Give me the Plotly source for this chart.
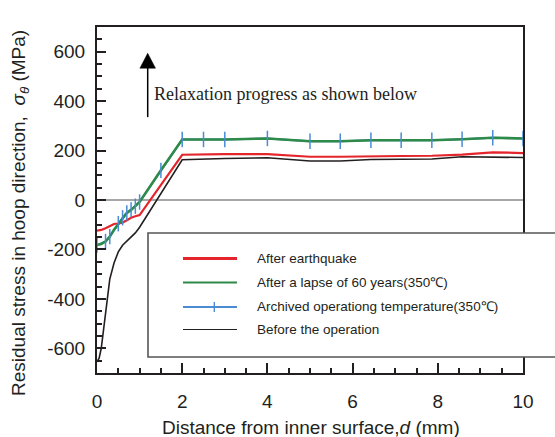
import plotly.graph_objects as go

# ---------------- data ----------------
d_black = [0, 0.05, 0.1, 0.15, 0.2, 0.25, 0.3, 0.4, 0.5, 0.6, 0.7, 0.8, 0.9, 1.0, 2.0, 3.0, 4.0, 5.0, 5.71, 6.43, 7.14, 7.86, 8.57, 9.29, 10]
s_black = [-655, -640, -600, -530, -455, -380, -320, -255, -210, -183, -165, -150, -133, -110, 163, 168, 171, 158, 158, 164, 166, 166, 175, 175, 172]

d_red = [0, 0.1, 0.2, 0.3, 0.4, 0.5, 0.6, 0.7, 0.8, 0.9, 1.0, 2.0, 2.5, 3.0, 4.0, 5.0, 5.71, 6.43, 7.14, 7.86, 8.57, 9.29, 10]
s_red = [-124, -121, -114, -105, -97, -95, -92, -82, -72, -66, -61, 183, 186, 186, 186, 175, 175, 178, 178, 179, 184, 193, 190]

d_green = [0, 0.1, 0.2, 0.3, 0.4, 0.5, 0.6, 0.7, 0.8, 0.9, 1.0, 1.5, 2.0, 2.5, 3.0, 4.0, 5.0, 5.71, 6.43, 7.14, 7.86, 8.57, 9.29, 10]
s_green = [-182, -178, -168, -148, -120, -96, -72, -52, -40, -25, -8, 120, 245, 245, 245, 249, 238, 238, 242, 242, 242, 246, 252, 249]

d_blue = [0, 0.2, 0.3, 0.5, 0.6, 0.7, 0.8, 0.9, 1.0, 1.5, 2.0, 2.5, 3.0, 4.0, 5.0, 5.71, 6.43, 7.14, 7.86, 8.57, 9.29, 10]
s_blue = [-182, -168, -148, -96, -72, -52, -40, -25, -8, 120, 245, 245, 245, 249, 238, 238, 242, 242, 242, 246, 252, 249]

legend_labels = ["After earthquake", "After a lapse of 60 years(350\u2103)",
                 "Archived operationg temperature(350\u2103)", "Before the operation"]

x_ticks = [0, 2, 4, 6, 8, 10]
x_ticktext = ["0", "2", "4", "6", "8", "10"]
y_ticks = [-600, -400, -200, 0, 200, 400, 600]
y_ticktext = ["-600", "-400", "-200", "0", "200", "400", "600"]

RED = "#e4252b"
GREEN = "#2e8a48"
BLUE = "#4a8bd4"
BLACK = "#231f20"

W, H = 555, 437
L, R, T, B = 97, 523, 27, 373


def px(xp):
    return (xp - L) / (R - L)


def py(yp):
    return (B - yp) / (B - T)


fig = go.Figure()
fig.add_trace(go.Scatter(x=d_black, y=s_black, mode="lines", name=legend_labels[3],
                         line=dict(color=BLACK, width=1.6), showlegend=False))
fig.add_trace(go.Scatter(x=d_red, y=s_red, mode="lines", name=legend_labels[0],
                         line=dict(color=RED, width=2.2), showlegend=False))
fig.add_trace(go.Scatter(x=d_blue, y=s_blue, mode="lines", name=legend_labels[2],
                         line=dict(color=BLUE, width=2), showlegend=False))
fig.add_trace(go.Scatter(x=d_green, y=s_green, mode="lines", name=legend_labels[1],
                         line=dict(color=GREEN, width=2.6), showlegend=False))
fig.add_trace(go.Scatter(x=d_blue, y=s_blue, mode="markers", name=legend_labels[2],
                         marker=dict(symbol="line-ns", size=11, line=dict(color=BLUE, width=1.5)),
                         showlegend=False, hoverinfo="skip"))

shapes = []
# zero line
shapes.append(dict(type="line", xref="paper", yref="y", x0=px(105), x1=px(525), y0=0, y1=0,
                   line=dict(color="#8a8a8a", width=1.6), layer="below"))
# arrow
ax = (147.7 - L) / (R - L) * 10
shapes.append(dict(type="line", xref="x", yref="y", x0=ax, x1=ax, y0=(200 - 117) / 0.2475,
                   y1=(200 - 66) / 0.2475, line=dict(color="black", width=1.5)))
hw = 7.8 / 42.6
yb = (200 - 68) / 0.2475
ytip = (200 - 53) / 0.2475
shapes.append(dict(type="path", xref="x", yref="y",
                   path=f"M {ax-hw},{yb} L {ax+hw},{yb} L {ax},{ytip} Z",
                   fillcolor="black", line=dict(color="black", width=0.5)))
# legend box
shapes.append(dict(type="rect", xref="paper", yref="paper", x0=px(148), x1=px(562),
                   y0=py(357), y1=py(233), line=dict(color="#555555", width=1.6),
                   fillcolor="white"))

rows = [258, 282, 306.5, 329]
cols = [RED, GREEN, BLUE, BLACK]
widths = [3, 2, 2, 1.2]
annotations = []
for i, (yy, c, w) in enumerate(zip(rows, cols, widths)):
    shapes.append(dict(type="line", xref="paper", yref="paper", x0=px(183), x1=px(237),
                       y0=py(yy + 0.5), y1=py(yy + 0.5), line=dict(color=c, width=w)))
    annotations.append(dict(text=legend_labels[i], xref="paper", yref="paper", x=px(255),
                            y=py(yy), xanchor="left", yanchor="middle", showarrow=False,
                            font=dict(family="Liberation Sans, Arial", size=13.5, color="#231f20")))
shapes.append(dict(type="line", xref="paper", yref="paper", x0=px(214.3), x1=px(214.3),
                   y0=py(306.5 + 5.5), y1=py(306.5 - 4.5), line=dict(color=BLUE, width=1.4)))

annotations.append(dict(text="Relaxation progress as shown below", xref="paper", yref="paper",
                        x=px(152), y=py(94), xanchor="left", yanchor="middle", showarrow=False,
                        font=dict(family="Liberation Serif, Times New Roman", size=18, color="#231f20")))
annotations.append(dict(text="Distance from inner surface,<i>d</i> (mm)", xref="paper", yref="paper",
                        x=px(311), y=py(427), xanchor="center", yanchor="middle", showarrow=False,
                        font=dict(family="Liberation Sans, Arial", size=19, color="#231f20")))
annotations.append(dict(text="Residual stress in hoop direction,  <i>\u03c3</i><sub><i>\u03b8</i></sub> (MPa)",
                        xref="paper", yref="paper", x=px(20), y=py(213), xanchor="center",
                        yanchor="middle", textangle=-90, showarrow=False,
                        font=dict(family="Liberation Sans, Arial", size=19, color="#231f20")))

fig.update_layout(
    width=W, height=H,
    margin=dict(l=L, r=W - R, t=T, b=H - B),
    paper_bgcolor="white", plot_bgcolor="white",
    showlegend=False,
    shapes=shapes, annotations=annotations,
    font=dict(family="Liberation Sans, Arial", size=19, color="#231f20"),
)
fig.update_xaxes(range=[0, 10], tickvals=x_ticks, ticktext=x_ticktext, ticks="inside",
                 ticklen=10, tickwidth=2,
                 tickcolor=BLACK, showline=True, linewidth=2, linecolor=BLACK, mirror=True,
                 showgrid=False, zeroline=False, ticklabelstandoff=10,
                 minor=dict(dtick=0.5, ticks="inside", ticklen=5, tickwidth=2, tickcolor=BLACK,
                            showgrid=False),
                 tickfont=dict(size=19))
fig.update_yaxes(range=[-700, 700], tickvals=y_ticks, ticktext=y_ticktext, ticks="inside",
                 ticklen=9, tickwidth=2,
                 tickcolor=BLACK, showline=True, linewidth=2, linecolor=BLACK, mirror=True,
                 showgrid=False, zeroline=False, ticklabelstandoff=6,
                 minor=dict(dtick=50, tick0=0, ticks="inside", ticklen=5, tickwidth=2,
                            tickcolor=BLACK, showgrid=False),
                 tickfont=dict(size=19))

fig.write_html("out.html")
